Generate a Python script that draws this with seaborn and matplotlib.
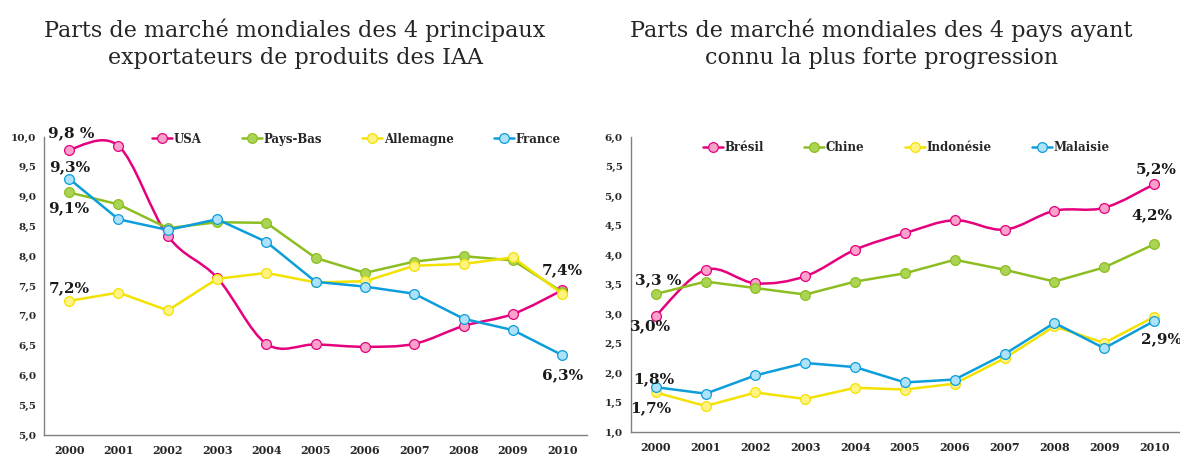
import numpy as np
import pandas as pd
import matplotlib
matplotlib.use("Agg")
import matplotlib.pyplot as plt
from matplotlib.path import Path
from matplotlib.patches import PathPatch
from matplotlib.lines import Line2D
import seaborn as sns

# ---------------------------------------------------------------
# Données
# ---------------------------------------------------------------
annees = ["2000", "2001", "2002", "2003", "2004", "2005",
          "2006", "2007", "2008", "2009", "2010"]

usa = [9.79, 9.85, 8.34, 7.64, 6.53, 6.52, 6.48, 6.53, 6.83, 7.03, 7.43]
pays_bas = [9.07, 8.87, 8.47, 8.57, 8.56, 7.97, 7.72, 7.91, 8.00, 7.93, 7.40]
allemagne = [7.25, 7.39, 7.09, 7.62, 7.72, 7.56, 7.58, 7.84, 7.87, 7.98, 7.37]
france = [9.30, 8.62, 8.44, 8.62, 8.24, 7.57, 7.49, 7.37, 6.95, 6.76, 6.34]

bresil = [2.97, 3.75, 3.52, 3.64, 4.09, 4.37, 4.59, 4.43, 4.75, 4.80, 5.20]
chine = [3.34, 3.55, 3.44, 3.33, 3.55, 3.69, 3.92, 3.75, 3.55, 3.79, 4.18]
indonesie = [1.67, 1.44, 1.67, 1.56, 1.75, 1.72, 1.82, 2.25, 2.79, 2.51, 2.95]
malaisie = [1.76, 1.65, 1.96, 2.17, 2.10, 1.84, 1.89, 2.32, 2.85, 2.42, 2.88]

# couleurs (ligne, remplissage du marqueur)
ROSE = ("#E5007D", "#F7A1CB")
VERT = ("#8CBE22", "#AAD452")
JAUNE = ("#F3E100", "#FFF382")
BLEU = ("#0C9DDB", "#AEE2F8")

SERIF = ["DejaVu Serif"]


def courbe_lissee(ax, x, y, couleur, z):
    """Trace une ligne lissée (type Excel) par des courbes de Bézier."""
    pts = np.column_stack([x, y]).astype(float)
    n = len(pts)
    verts = [pts[0]]
    codes = [Path.MOVETO]
    for i in range(n - 1):
        p0 = pts[max(i - 1, 0)]
        p1 = pts[i]
        p2 = pts[i + 1]
        p3 = pts[min(i + 2, n - 1)]
        c1 = p1 + (p2 - p0) / 6.0
        c2 = p2 - (p3 - p1) / 6.0
        verts += [c1, c2, p2]
        codes += [Path.CURVE4] * 3
    patch = PathPatch(Path(verts, codes), facecolor="none", edgecolor=couleur,
                      lw=1.8, zorder=z, capstyle="round", joinstyle="round")
    ax.add_patch(patch)


def tracer_serie(ax, valeurs, couleurs, z, lisse=False):
    df = pd.DataFrame({"x": np.arange(len(annees)), "y": valeurs})
    ligne, fond = couleurs
    if lisse:
        courbe_lissee(ax, df["x"], df["y"], ligne, z)
        sns.scatterplot(data=df, x="x", y="y", ax=ax, s=50, color=fond,
                        edgecolor=ligne, linewidth=0.9, zorder=z + 0.5, legend=False)
    else:
        sns.lineplot(data=df, x="x", y="y", ax=ax, color=ligne, lw=1.8,
                     marker="o", markersize=7, markerfacecolor=fond,
                     markeredgecolor=ligne, markeredgewidth=0.9, zorder=z)


def mise_en_forme(ax, ymin, ymax):
    ax.set_xlim(-0.5, len(annees) - 0.5)
    ax.set_ylim(ymin, ymax)
    ax.set_yticks(np.arange(ymin, ymax + 0.01, 0.5))
    ax.set_yticklabels([f"{v:.1f}".replace(".", ",") for v in np.arange(ymin, ymax + 0.01, 0.5)],
                       fontsize=7.5, fontweight="bold", family=SERIF)
    # graduations entre les catégories, étiquettes au centre
    ax.set_xticks(np.arange(-0.5, len(annees), 1.0))
    ax.set_xticklabels([])
    ax.set_xticks(np.arange(len(annees)), minor=True)
    ax.set_xticklabels(annees, minor=True, fontsize=8, fontweight="bold", family=SERIF)
    ax.tick_params(axis="x", which="minor", length=0, pad=7)
    ax.tick_params(axis="x", which="major", length=4, width=0.8, color="#808080")
    ax.tick_params(axis="y", length=3, width=0.8, color="#808080", pad=3)
    for s in ["top", "right"]:
        ax.spines[s].set_visible(False)
    for s in ["left", "bottom"]:
        ax.spines[s].set_color("#808080")
        ax.spines[s].set_linewidth(1.0)
    ax.set_xlabel("")
    ax.set_ylabel("")
    ax.grid(False)


def legende(fig, ax, noms, couleurs, cx, cy):
    poignees = [Line2D([0], [0], color=c[0], lw=1.8, marker="o", markersize=7,
                       markerfacecolor=c[1], markeredgecolor=c[0], markeredgewidth=0.9)
                for c in couleurs]
    ax.legend(poignees, noms, ncol=4, frameon=False, loc="center",
              bbox_to_anchor=(cx, cy), bbox_transform=fig.transFigure,
              handlelength=1.7, handletextpad=0.15, columnspacing=3.4,
              prop={"family": SERIF, "weight": "bold", "size": 8.5})


def etiquette(ax, x, y, texte):
    ax.text(x, y, texte, ha="center", va="center", fontsize=11,
            fontweight="bold", family=SERIF, color="#1a1a1a", zorder=10)


sns.set_theme(style="white")
plt.rcParams["font.family"] = SERIF

fig = plt.figure(figsize=(11.8, 4.59), dpi=100)
ax1 = fig.add_axes([0.0377, 0.0523, 0.4597, 0.6492])
ax2 = fig.add_axes([0.5347, 0.0588, 0.4644, 0.6427])

# ---------------------------------------------------------------
# Graphique de gauche
# ---------------------------------------------------------------
tracer_serie(ax1, usa, ROSE, 2, lisse=True)
tracer_serie(ax1, pays_bas, VERT, 3)
tracer_serie(ax1, allemagne, JAUNE, 4)
tracer_serie(ax1, france, BLEU, 5)
mise_en_forme(ax1, 5.0, 10.0)
legende(fig, ax1, ["USA", "Pays-Bas", "Allemagne", "France"],
        [ROSE, VERT, JAUNE, BLEU], 0.302, 0.697)

etiquette(ax1, 0.05, 10.07, "9,8 %")
etiquette(ax1, 0.02, 9.49, "9,3%")
etiquette(ax1, 0.0, 8.80, "9,1%")
etiquette(ax1, 0.0, 7.46, "7,2%")
etiquette(ax1, 10.0, 7.77, "7,4%")
etiquette(ax1, 10.0, 6.00, "6,3%")

# ---------------------------------------------------------------
# Graphique de droite
# ---------------------------------------------------------------
tracer_serie(ax2, bresil, ROSE, 2, lisse=True)
tracer_serie(ax2, chine, VERT, 3)
tracer_serie(ax2, indonesie, JAUNE, 4)
tracer_serie(ax2, malaisie, BLEU, 5)
mise_en_forme(ax2, 1.0, 6.0)
legende(fig, ax2, ["Brésil", "Chine", "Indonésie", "Malaisie"],
        [ROSE, VERT, JAUNE, BLEU], 0.768, 0.678)

etiquette(ax2, 0.05, 3.58, "3,3 %")
etiquette(ax2, -0.1, 2.80, "3,0%")
etiquette(ax2, -0.05, 1.90, "1,8%")
etiquette(ax2, -0.1, 1.41, "1,7%")
etiquette(ax2, 10.05, 5.45, "5,2%")
etiquette(ax2, 9.95, 4.67, "4,2%")
etiquette(ax2, 10.15, 2.57, "2,9%")

# titres
fig.text(0.25, 0.905, "Parts de marché mondiales des 4 principaux\nexportateurs de produits des IAA",
         ha="center", va="center", fontsize=16, linespacing=1.3, family=SERIF)
fig.text(0.747, 0.905, "Parts de marché mondiales des 4 pays ayant\nconnu la plus forte progression",
         ha="center", va="center", fontsize=16, linespacing=1.3, family=SERIF)

fig.savefig("out.png", dpi=100, facecolor="white")
